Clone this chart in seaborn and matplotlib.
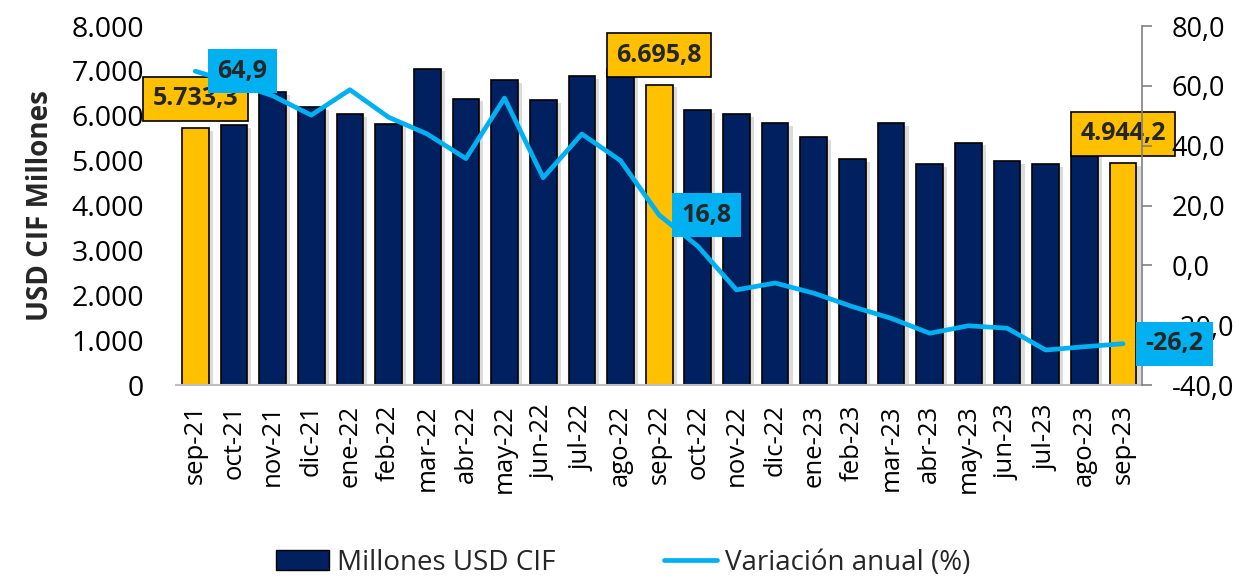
import numpy as np
import pandas as pd
import matplotlib
matplotlib.use("Agg")
import matplotlib.pyplot as plt
import matplotlib.patheffects as pe
from matplotlib.patches import Patch
from matplotlib.lines import Line2D
from matplotlib.ticker import FuncFormatter, MultipleLocator
import seaborn as sns

months = ["sep-21", "oct-21", "nov-21", "dic-21", "ene-22", "feb-22", "mar-22", "abr-22",
          "may-22", "jun-22", "jul-22", "ago-22", "sep-22", "oct-22", "nov-22", "dic-22",
          "ene-23", "feb-23", "mar-23", "abr-23", "may-23", "jun-23", "jul-23", "ago-23", "sep-23"]
millones_usd = [5733.3, 5790, 6530, 6190, 6040, 5820, 7050, 6380, 6790, 6350, 6880, 7050,
                6695.8, 6120, 6030, 5830, 5520, 5030, 5840, 4920, 5400, 4990, 4920, 5200, 4944.2]
variacion = [64.9, 61.0, 56.7, 50.2, 58.7, 49.5, 43.9, 35.7, 55.9, 29.3, 43.9, 35.0,
             16.8, 6.4, -8.2, -5.9, -9.3, -13.8, -17.7, -22.7, -20.2, -21.0, -28.3, -27.2, -26.2]
highlight = ["sep-21", "sep-22", "sep-23"]

NAVY = "#00205F"
GOLD = "#FFC000"
CYAN = "#00B0F0"

sns.set_theme(style="white")
plt.rcParams["font.family"] = ["Open Sans", "DejaVu Sans"]

df = pd.DataFrame({"mes": months, "valor": millones_usd, "var": variacion})
df["pos"] = np.arange(len(df))
colors = {m: (GOLD if m in highlight else NAVY) for m in months}

fig = plt.figure(figsize=(12.47, 5.83), dpi=100)
ax = fig.add_axes([0.1411, 0.3396, 0.775, 0.6158])

sns.barplot(data=df, x="mes", y="valor", hue="mes", palette=colors, legend=False,
            width=0.69, edgecolor="black", linewidth=1.2, ax=ax, saturation=1)
for p in ax.patches:
    p.set_path_effects([pe.SimplePatchShadow(offset=(3, -2), shadow_rgbFace="#9a9a9a", alpha=0.35),
                        pe.Normal()])

ax.set_ylim(0, 8000)
ax.set_xlim(-0.5, len(months) - 0.5)
ax.yaxis.set_major_locator(MultipleLocator(1000))
ax.yaxis.set_major_formatter(FuncFormatter(lambda v, p: f"{v:,.0f}".replace(",", ".")))
ax.set_xlabel("")
ax.set_ylabel("USD CIF Millones", fontsize=20, fontweight="bold", labelpad=12)
ax.tick_params(axis="y", length=0, pad=23, labelsize=20.5, colors="black")
ax.tick_params(axis="x", length=0, pad=14, labelsize=18.5, rotation=90, colors="black")
for s in ["left", "top", "right"]:
    ax.spines[s].set_visible(False)
ax.spines["bottom"].set_color("#BFBFBF")
ax.spines["bottom"].set_linewidth(1.5)

ax2 = ax.twinx()
sns.lineplot(data=df, x="pos", y="var", color=CYAN, linewidth=3.4, ax=ax2,
             solid_joinstyle="round", solid_capstyle="round")
ax2.set_ylim(-40, 80)
ax2.set_xlim(-0.5, len(months) - 0.5)
ax2.yaxis.set_major_locator(MultipleLocator(20))
ax2.yaxis.set_major_formatter(FuncFormatter(lambda v, p: f"{v:.1f}".replace(".", ",")))
ax2.set_ylabel("")
ax2.set_xlabel("")
ax2.tick_params(axis="y", length=7, width=1.2, pad=14, labelsize=19.5,
                color="#808080", labelcolor="black")
for s in ["left", "top", "bottom"]:
    ax2.spines[s].set_visible(False)
ax2.spines["right"].set_color("#808080")
ax2.spines["right"].set_linewidth(1.2)

# labels
for m in highlight:
    i = months.index(m)
    v = millones_usd[i]
    ax.annotate(f"{v:,.1f}".replace(",", "X").replace(".", ",").replace("X", "."),
                xy=(i, v), xytext=(0, 12), textcoords="offset points",
                ha="center", va="bottom", fontsize=18, fontweight="bold", zorder=10,
                bbox=dict(boxstyle="square,pad=0.38", fc=GOLD, ec="black", lw=1.2))
for m in highlight:
    i = months.index(m)
    v = variacion[i]
    ax2.annotate(f"{v:.1f}".replace(".", ","),
                 xy=(i, v), xytext=(16, 0), textcoords="offset points",
                 ha="left", va="center", fontsize=18, fontweight="bold", zorder=10,
                 bbox=dict(boxstyle="square,pad=0.38", fc=CYAN, ec="none"))

handles = [Patch(facecolor=NAVY, edgecolor="black", linewidth=1.0, label="Millones USD CIF"),
           Line2D([0], [0], color=CYAN, linewidth=3.4, label="Variación anual (%)")]
fig.legend(handles=handles, loc="lower center", bbox_to_anchor=(0.5, -0.032), ncol=2,
           frameon=False, fontsize=20, columnspacing=3.9, handlelength=1.9, handletextpad=0.3)

fig.savefig("out.png", dpi=100)
